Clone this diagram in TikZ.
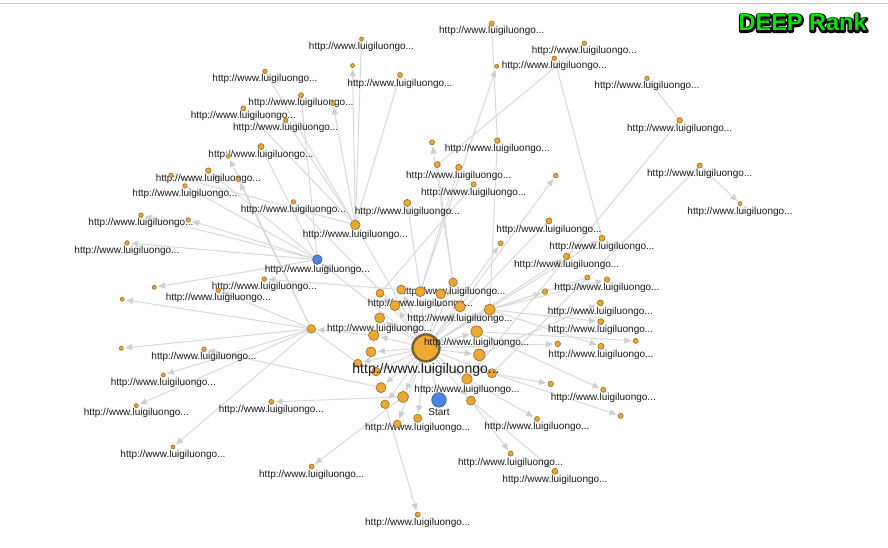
\documentclass[tikz,border=0pt]{standalone}
\usepackage{fontspec}
\setmainfont{Liberation Sans}
\usetikzlibrary{arrows.meta,backgrounds}
\definecolor{dotfill}{HTML}{EBA833}
\definecolor{dotline}{HTML}{A5742A}
\definecolor{bluefill}{HTML}{4F85E2}
\definecolor{blueline}{HTML}{38619F}
\definecolor{edgecol}{HTML}{D9D9D9}
\definecolor{tipcol}{HTML}{CFCFCF}
\definecolor{titlegreen}{HTML}{00E400}
\tikzset{
  dot/.style={circle,draw=dotline,fill=dotfill,line width=0.7pt,inner sep=0pt},
  bluedot/.style={dot,draw=blueline,fill=bluefill},
  lab/.style={anchor=base,inner sep=0pt,font=\fontsize{10}{12}\selectfont,text=black!90},
  plain/.style={draw=edgecol,line width=1pt},
  arrowed/.style={plain,-{Triangle[length=7pt,width=6pt,color=tipcol]},shorten >=1.5pt},
  titletext/.style={anchor=base,inner sep=0pt,font=\fontsize{23.5}{25}\selectfont\bfseries}
}
\newcommand{\dt}[4]{\node[dot,minimum size=#4pt] (#1) at (#2,#3) {};}
\newcommand{\dl}[5]{\node[dot,minimum size=#4pt] (#1) at (#2,#3) {};
  \node[lab] (#1-t) at (#2,#5+3.5) {http://www.luigiluongo...};}
\begin{document}
\begin{tikzpicture}[x=1pt,y=-1pt]
\useasboundingbox (0,-0.6) rectangle (888,547.4);
\coordinate (ruleL) at (0,2.9); \coordinate (ruleR) at (888,2.9);
\draw[draw=black!22,line width=1pt] (ruleL) -- (ruleR);
% nodes
\node[dot,minimum size=27pt,line width=2.4pt,draw=black!40!dotline!85] (hub) at (426,347.3) {};
\node[bluedot,minimum size=14.5pt] (start) at (439,399.3) {};
\node[bluedot,minimum size=9.5pt] (b) at (317.3,259) {};
\dl{c}{355.3}{224.3}{9.5}{233}
\dt{m}{311.3}{328.3}{8.5}
\dl{t1}{491.7}{23}{5}{29.5}
\dl{t2}{584.3}{42.7}{4.5}{49.5}
\dl{t3}{554.3}{57.7}{4.5}{64.5}
\dt{t4}{496.7}{65.7}{4}
\dl{t5}{647}{77.7}{4.5}{84.7}
\dl{t6}{679.7}{119.7}{5.5}{127}
\dl{t7}{497.3}{140}{5.5}{147}
\dt{t8}{432}{141.7}{5}
\dt{t9}{437.3}{164}{6}
\dl{t10}{458.7}{166.7}{6}{174}
\dl{t11}{473.7}{183.7}{5}{191}
\dl{t12}{407.3}{202.3}{7}{210}
\dt{t13}{555.7}{175}{4.5}
\dl{t14}{699.7}{165}{5}{172}
\dl{t15}{740}{203}{4}{210}
\dl{t16}{400}{74.5}{5}{82.5}
\dl{t17}{361.5}{38.5}{4}{45.5}
\dt{t18}{352.5}{65}{4}
\dl{u1}{265}{70.7}{4.5}{77}
\dl{u2}{301}{94.7}{5}{101.5}
\dt{u3}{333}{102.7}{4.5}
\dl{u4}{243.3}{107.7}{5}{114.5}
\dl{u5}{285.7}{119.7}{4.5}{126.5}
\dl{u6}{261}{146}{6}{153}
\dt{u7}{228.3}{155.7}{4}
\dl{u8}{208.3}{170}{5.5}{177.7}
\dt{u9}{171}{174.7}{4.5}
\dt{u10}{238}{178.7}{4.5}
\dl{u11}{185}{185.3}{4.5}{192.5}
\dl{u12}{293.3}{201.3}{4.5}{208.5}
\dl{u13}{141}{214.7}{4.5}{221.5}
\dt{u14}{188.3}{219.3}{4.5}
\dl{u15}{127}{242.3}{4.5}{249.5}
\dl{v1}{264.3}{278.5}{4.5}{285.7}
\dt{v2}{154.3}{286.7}{4}
\dt{v3}{122.3}{298.7}{4}
\dl{v4}{218.3}{289.7}{4.5}{296.5}
\dt{v5}{121.3}{347.7}{4}
\dl{v6}{204}{348.7}{4.5}{355.5}
\dl{v7}{163.3}{374.3}{4}{381.5}
\dl{v8}{136.3}{405}{4}{411.7}
\dl{v9}{271.3}{401.3}{5}{408.3}
\dl{v10}{173}{446.3}{4}{453.5}
\dl{v11}{311.7}{466}{5}{473}
\dl{r1}{453}{281.7}{8.5}{290}
\dt{r2}{380}{292.7}{8}
\dt{r3}{401.3}{289}{9}
\dl{r4}{420.3}{291}{10}{302.5}
\dt{r5}{440.7}{293.3}{9.5}
\dt{r6}{395}{305}{10}
\dl{r7}{460}{306}{10.5}{317}
\dt{r8}{489.7}{309}{11}
\dl{r9}{379.7}{317.3}{10}{327}
\dt{r10}{373.7}{334.7}{10.5}
\dl{r11}{476.7}{331}{11.5}{341.5}
\dt{r12}{371}{351.3}{10}
\dt{r13}{479.3}{354.3}{11.5}
\dt{r14}{357.7}{362.7}{8}
\dt{r15}{376}{371}{8.5}
\dt{r16}{492}{372.7}{9}
\dl{r17}{467}{378.3}{10.5}{388}
\dt{r18}{381}{387}{10}
\dt{r19}{403}{396.3}{11}
\dt{r20}{471}{400}{9}
\dt{r21}{385}{403.7}{8.5}
\dl{r22}{417.7}{417.7}{8}{426}
\dt{r23}{397.3}{423.3}{7.5}
\dl{w1}{549}{220.3}{6}{228}
\dt{w2}{500.7}{242.7}{5}
\dl{w3}{602}{237.7}{6}{245}
\dl{w4}{566.7}{255.7}{6.5}{263.3}
\dt{w5}{587.3}{277}{5}
\dl{w6}{607}{279}{5.5}{286.3}
\dt{w7}{545}{291}{5.5}
\dl{w8}{600.3}{302.3}{6}{310}
\dl{w9}{600.7}{321}{6}{328.5}
\dt{w10}{635.7}{340.3}{5}
\dt{w11}{557.7}{343.3}{5.5}
\dl{w12}{601}{345.7}{6}{353.3}
\dt{w13}{550.7}{383.3}{5.5}
\dl{w14}{603.3}{389.3}{5}{396.5}
\dt{w15}{620.7}{415.3}{5}
\dl{w16}{537}{418.3}{5}{425.5}
\dl{w17}{510.7}{453}{5}{461}
\dl{w18}{555}{470.7}{6}{478.5}
\dl{w19}{417.7}{514}{5}{521.7}
% texts of the blue nodes, hub and title
\node[lab] (b-t) at (317.3,272) {http://www.luigiluongo...};
\node[lab] (start-t) at (439,414.5) {Start};
\node[lab,font=\fontsize{14}{16}\selectfont] (hub-t) at (426,373) {http://www.luigiluongo...};
\node[titletext,text=black] (title-outline) at (803,30.7)
  {\special{pdf:code 2 Tr 3.6 w 0 0 0 RG 1 j}DEEP Rank\special{pdf:code 0 Tr}};
\node[titletext,text=titlegreen] (title) at (802.6,30.3) {DEEP Rank};
% edges
\begin{pgfonlayer}{background}
\foreach \s/\e in {hub/b,hub/r1,hub/r2,hub/r3,hub/r4,hub/r5,hub/r6,hub/r7,hub/r8,hub/r9,hub/r10,hub/r11,hub/r12,hub/r13,hub/r14,hub/r15,hub/r16,hub/r17,hub/r18,hub/r19,hub/r20,hub/r21,hub/r22,hub/r23,hub/w2,hub/w3,hub/w4,hub/w11,start/hub,
  r4/t4,r1/t8,c/t18,c/u3,m/u7,m/u10,b/u8,b/u13,b/u14,b/u15,b/v2,m/v3,m/v5,m/v4,r18/v6,m/v7,m/v8,m/v10,r19/v9,r19/v11,r21/w19,r3/v1,r10/m,
  r8/w6,r8/w7,r8/w9,r8/w12,r13/w8,r11/w10,r11/w14,r16/w13,r16/w15,r17/w16,r20/w17,r20/w18,r7/t13,t14/t15}
  \draw[arrowed] (\s) -- (\e);
\foreach \s/\e in {t1/t7,t2/t9,t3/w3,t5/t6,t6/r17,t14/r16,r1/t9,r4/t10,r2/t11,r4/t12,r8/t7,c/u1,c/u4,c/u5,c/t16,c/t17,r6/u12,c/u9,b/u2,b/u6,b/u11,hub/c,m/r14,hub/w1,r8/w5}
  \draw[plain] (\s) -- (\e);
\end{pgfonlayer}
\end{tikzpicture}
\end{document}
